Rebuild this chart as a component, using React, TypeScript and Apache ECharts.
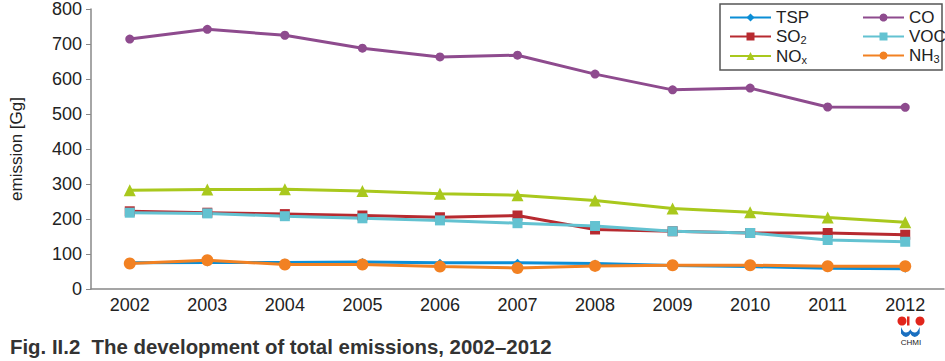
import React, { useEffect, useRef } from "react";
import * as echarts from "echarts";

const years = ["2002", "2003", "2004", "2005", "2006", "2007", "2008", "2009", "2010", "2011", "2012"];
const tsp = [75, 76, 76, 77, 75, 75, 73, 67, 64, 59, 58];
const co = [714, 742, 725, 688, 663, 668, 614, 569, 574, 520, 519];
const so2 = [222, 218, 214, 210, 205, 210, 170, 165, 160, 160, 155];
const voc = [218, 216, 208, 202, 196, 188, 180, 165, 160, 140, 135];
const nox = [282, 284, 285, 280, 272, 268, 253, 230, 219, 204, 191];
const nh3 = [73, 82, 70, 70, 64, 60, 66, 68, 68, 65, 65];

const seriesDefs = [
  { name: "TSP", data: tsp, color: "#0b8ed6", symbol: "diamond", size: 8 },
  { name: "CO", data: co, color: "#8e4b8e", symbol: "circle", size: 9 },
  { name: "SO2", data: so2, color: "#b72a30", symbol: "rect", size: 10 },
  { name: "VOC", data: voc, color: "#63c2d1", symbol: "rect", size: 10 },
  { name: "NOx", data: nox, color: "#a9c81d", symbol: "triangle", size: 12 },
  { name: "NH3", data: nh3, color: "#f28122", symbol: "circle", size: 12 },
];

const fmt = (n: string) => {
  if (n === "SO2") return "SO{s|2}";
  if (n === "NOx") return "NO{s|x}";
  if (n === "NH3") return "NH{s|3}";
  return n;
};

const FONT = "Liberation Sans, Arial";

const legendText = {
  fontFamily: FONT,
  fontSize: 17,
  color: "#222",
  rich: {
    s: { fontSize: 11, fontFamily: FONT, color: "#222", padding: [7, 0, 0, 0] },
  },
};

export default function App() {
  const ref = useRef<HTMLDivElement>(null);
  useEffect(() => {
    document.body.style.margin = "0";
    if (!ref.current) return;
    const chart = echarts.init(ref.current, undefined, { renderer: "svg" });
    registerWave();
    chart.setOption({
      animation: false,
      backgroundColor: "#fff",
      grid: { left: 83, right: 1, top: 6, bottom: 72, containLabel: false },
      xAxis: {
        type: "category",
        data: years,
        boundaryGap: true,
        axisLine: { lineStyle: { color: "#888", width: 1.5 } },
        axisTick: { length: 5, lineStyle: { color: "#888" } },
        axisLabel: { color: "#222", fontSize: 18, fontFamily: FONT, margin: 7 },
      },
      yAxis: {
        type: "value",
        min: 0,
        max: 800,
        interval: 100,
        name: "emission [Gg]",
        nameLocation: "middle",
        nameRotate: 90,
        nameGap: 66,
        nameTextStyle: { color: "#222", fontSize: 17, fontFamily: FONT },
        axisLine: { show: true, lineStyle: { color: "#888", width: 1.5 } },
        axisTick: { show: true, length: 5, lineStyle: { color: "#888" } },
        splitLine: { show: false },
        axisLabel: { color: "#222", fontSize: 18, fontFamily: FONT, margin: 9 },
      },
      legend: [
        {
          data: ["TSP", "SO2", "NOx"],
          orient: "vertical",
          left: 724,
          top: 4,
          itemWidth: 41,
          itemHeight: 10,
          itemGap: 2,
          formatter: fmt,
          textStyle: legendText,
          z: 10,
        },
        {
          data: ["CO", "VOC", "NH3"],
          orient: "vertical",
          left: 857,
          top: 4,
          itemWidth: 41,
          itemHeight: 10,
          itemGap: 2,
          formatter: fmt,
          textStyle: legendText,
          z: 10,
        },
      ],
      graphic: [
        {
          type: "rect",
          shape: { x: 720, y: 4, width: 222, height: 66 },
          style: { fill: "#fff", stroke: "#555", lineWidth: 1.5 },
          z: 3,
        },
        {
          type: "text",
          left: 10,
          top: 337,
          style: {
            text: "Fig. II.2  The development of total emissions, 2002\u20132012",
            fontFamily: FONT,
            fontWeight: "bold",
            fontSize: 20.4,
            fill: "#333",
          },
        },
        { type: "circle", shape: { cx: 902, cy: 321, r: 4.5 }, style: { fill: "#e1251b" } },
        { type: "circle", shape: { cx: 920, cy: 321, r: 4.5 }, style: { fill: "#e1251b" } },
        { type: "rect", shape: { x: 907, y: 316.5, width: 2.5, height: 9 }, style: { fill: "#e1251b" } },
        {
          type: "wave",
          x: 901,
          y: 327,
          scaleX: 1.1,
          scaleY: 1.1,
          style: { fill: "#1a6fc0" },
        },
        {
          type: "text",
          x: 911,
          y: 338,
          style: {
            text: "CHMI",
            fontFamily: FONT,
            fontSize: 8,
            fill: "#222",
            textAlign: "center",
          },
        },
      ],
      series: seriesDefs.map((s) => ({
        name: s.name,
        type: "line",
        data: s.data,
        symbol: s.symbol,
        symbolSize: s.size,
        itemStyle: { color: s.color },
        lineStyle: { color: s.color, width: 3 },
      })),
    });
    return () => chart.dispose();
  }, []);
  return <div ref={ref} style={{ width: 945, height: 361 }} />;
}

let waveRegistered = false;
function registerWave() {
  if (waveRegistered) return;
  waveRegistered = true;
  const d =
    "M0 0 Q2 5 4.5 5 Q7 5 8.5 2 Q10 5 12.5 5 Q15 5 17 0 L17 6 Q15 9 12.5 9 Q10 9 8.5 6 Q7 9 4.5 9 Q2 9 0 6 Z";
  echarts.graphic.registerShape("wave", echarts.graphic.extendPath(d, {}));
}
